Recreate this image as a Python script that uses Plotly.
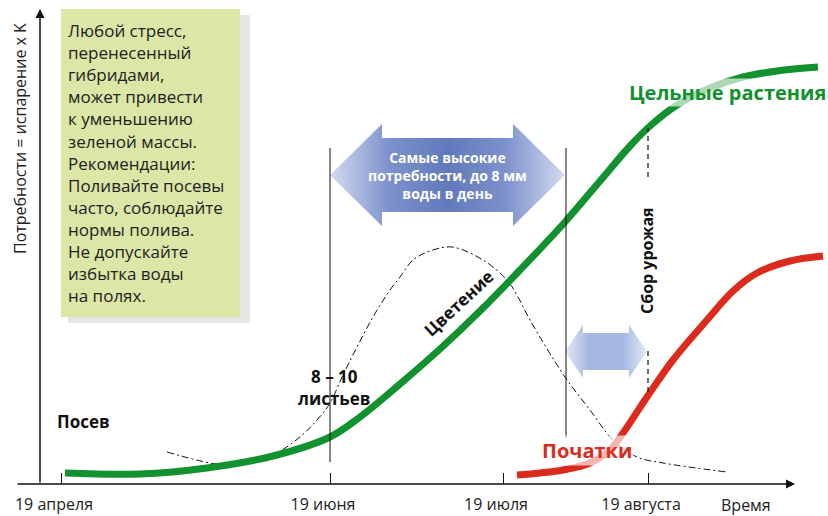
import plotly.graph_objects as go

# ---------------- data (schematic time units on x, relative water need on y) ----------------
green_x = [65, 140, 207, 273, 330, 360, 400, 440, 480, 520, 565, 600, 630, 650, 677, 710, 743, 777, 818]
green_y = [11, 10, 16, 28, 47, 67, 100, 135, 173, 214, 262, 303, 338, 358, 379, 396, 407, 413, 417]

red_x = [517, 540, 563, 590, 610, 623, 647, 673, 707, 733, 757, 790, 823]
red_y = [9, 11, 14, 21, 34, 51, 87, 124, 164, 193, 211, 223, 228]

bloom_x = [167, 223, 250, 270, 300, 317, 330, 343, 357, 373, 390, 400, 413, 430, 452, 483, 507, 518, 530,
           565, 590, 613, 637, 663, 727]
bloom_y = [32, 19, 21, 27, 47, 64, 81, 109, 137, 167, 194, 207, 224, 233, 237, 224, 204, 187, 164,
           107, 74, 44, 27, 21, 12]

tick_vals = [61, 330, 503, 648]
tick_text = ["19 апреля", "19 июня", "19 июля", "19 августа"]

box_lines = ["Любой стресс,", "перенесенный", "гибридами,", "может привести",
             "к уменьшению", "зеленой массы.", "Рекомендации:", "Поливайте посевы",
             "часто, соблюдайте", "нормы полива.", "Не допускайте", "избытка воды", "на полях."]

FONT = "Open Sans"
W, H = 828, 516
MB = 32
X_MIN, X_MAX = 0, 828
Y_MAX = H - MB

fig = go.Figure()

# bloom (dash-dot) curve
fig.add_trace(go.Scatter(x=bloom_x, y=bloom_y, mode="lines",
                         line=dict(color="#111", width=1, dash="7px,3px,2px,3px", shape="spline", smoothing=1.0),
                         hoverinfo="skip", showlegend=False))
# whole plants
fig.add_trace(go.Scatter(x=green_x, y=green_y, mode="lines",
                         line=dict(color="#12912f", width=7, shape="spline", smoothing=1.0),
                         hoverinfo="skip", showlegend=False))
# ears
fig.add_trace(go.Scatter(x=red_x, y=red_y, mode="lines",
                         line=dict(color="#dc2b1d", width=7, shape="spline", smoothing=1.0),
                         hoverinfo="skip", showlegend=False))


def double_arrow(x0, x1, yc, head_len, head_half, shaft_half):
    xs = [x0, x0 + head_len, x0 + head_len, x1 - head_len, x1 - head_len, x1,
          x1 - head_len, x1 - head_len, x0 + head_len, x0 + head_len, x0]
    ys = [yc, yc + head_half, yc + shaft_half, yc + shaft_half, yc + head_half, yc,
          yc - head_half, yc - shaft_half, yc - shaft_half, yc - head_half, yc]
    return xs, ys


big_x, big_y = double_arrow(330, 565, 309, 52, 51, 37)
fig.add_trace(go.Scatter(x=big_x, y=big_y, mode="lines", fill="toself",
                         line=dict(width=0, color="rgba(0,0,0,0)"),
                         fillgradient=dict(type="horizontal",
                                           colorscale=[[0, "#d3dbf1"], [0.25, "#7d92cc"], [0.5, "#6179bb"],
                                                       [0.75, "#7d92cc"], [1, "#d3dbf1"]]),
                         hoverinfo="skip", showlegend=False))
small_x, small_y = double_arrow(565, 647, 132.5, 18, 26.5, 18.5)
fig.add_trace(go.Scatter(x=small_x, y=small_y, mode="lines", fill="toself",
                         line=dict(width=0, color="rgba(0,0,0,0)"),
                         fillgradient=dict(type="horizontal",
                                           colorscale=[[0, "#e3e9f7"], [0.3, "#a3b7e1"], [0.7, "#a3b7e1"],
                                                       [1, "#e3e9f7"]]),
                         hoverinfo="skip", showlegend=False))

shapes = [
    # text box shadow + box
    dict(type="rect", x0=68, x1=250, y0=161, y1=469, fillcolor="#e6e6e6", line=dict(width=0), layer="below"),
    dict(type="rect", x0=61, x1=240, y0=167, y1=475, fillcolor="#dce6a7", line=dict(width=0), layer="below"),
    # phase lines
    dict(type="line", x0=330, x1=330, y0=22, y1=336, line=dict(color="#111", width=1)),
    dict(type="line", x0=566, x1=566, y0=46, y1=336, line=dict(color="#111", width=1)),
    # harvest dashed line segments
    dict(type="line", x0=648, x1=648, y0=307, y1=356, line=dict(color="#111", width=1.2, dash="5px,4px")),
    dict(type="line", x0=648, x1=648, y0=92, y1=137, line=dict(color="#111", width=1.2, dash="5px,4px")),
]

ann = []
# axes with arrows
ann.append(dict(x=795, y=0, ax=16, ay=0, axref="x", ayref="y", xref="x", yref="y", text="",
                showarrow=True, arrowhead=2, arrowsize=1.2, arrowwidth=1.5, arrowcolor="#111"))
ann.append(dict(x=40, y=475, ax=40, ay=0, axref="x", ayref="y", xref="x", yref="y", text="",
                showarrow=True, arrowhead=2, arrowsize=1.2, arrowwidth=1.5, arrowcolor="#111"))
# axis captions
ann.append(dict(x=746, xref="x", y=-21 / Y_MAX, yref="paper", yanchor="middle", xanchor="center",
                text="Время", showarrow=False, font=dict(family=FONT, size=16, color="#222")))
ann.append(dict(x=20, y=345, text="Потребности = испарение x K", textangle=-90, showarrow=False,
                font=dict(family=FONT, size=16, color="#222")))
# text box
ann.append(dict(x=66, y=467, xanchor="left", yanchor="top", align="left", showarrow=False,
                text="<br>".join(box_lines), font=dict(family=FONT, size=17, color="#222")))
# labels
ann.append(dict(x=83, y=63, text="<b>Посев</b>", showarrow=False, font=dict(family=FONT, size=17, color="#111")))
ann.append(dict(x=334, y=97, text="<b>8 – 10<br>листьев</b>", showarrow=False,
                font=dict(family=FONT, size=17, color="#111")))
ann.append(dict(x=458, y=181, text="<b>Цветение</b>", textangle=-43, showarrow=False,
                font=dict(family=FONT, size=17, color="#111")))
ann.append(dict(x=827, y=392, xanchor="right", text="<b>Цельные растения</b>", showarrow=False,
                bgcolor="rgba(255,255,255,0.65)", borderpad=0,
                font=dict(family=FONT, size=20, color="#12912f")))
ann.append(dict(x=587, y=34, text="<b>Початки</b>", showarrow=False, bgcolor="rgba(255,255,255,0.65)",
                font=dict(family=FONT, size=20, color="#dc2b1d")))
ann.append(dict(x=647, y=223, text="<b>Сбор урожая</b>", textangle=-90, showarrow=False,
                font=dict(family=FONT, size=16, color="#111")))
ann.append(dict(x=447, y=309, text="<b>Самые высокие<br>потребности, до 8 мм<br>воды в день</b>", showarrow=False,
                font=dict(family=FONT, size=14, color="white")))

fig.update_layout(
    width=W, height=H, margin=dict(l=0, r=0, t=0, b=MB, autoexpand=False),
    paper_bgcolor="white", plot_bgcolor="white",
    shapes=shapes, annotations=ann, showlegend=False,
    xaxis=dict(range=[X_MIN, X_MAX], showgrid=False, zeroline=False, showline=False,
               tickmode="array", tickvals=tick_vals, ticktext=tick_text,
               ticks="inside", ticklen=11, tickwidth=1, tickcolor="#111",
               ticklabelshift=-7, ticklabelstandoff=9, automargin=False,
               tickfont=dict(family=FONT, size=16, color="#222")),
    yaxis=dict(range=[0, Y_MAX], visible=False, showgrid=False, zeroline=False),
)

# remove the browser's default 8px page margin so the 828x516 figure fills the window exactly
fig.write_html("out.html", config={"displayModeBar": False},
               post_script="document.body.style.margin='0px';document.body.style.overflow='hidden';")
